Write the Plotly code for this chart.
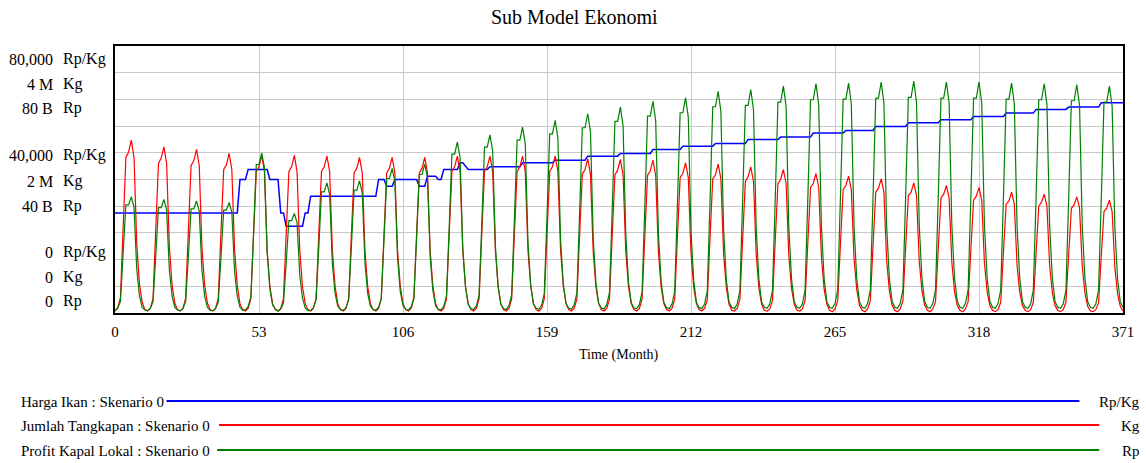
import plotly.graph_objects as go

# ---------------------------------------------------------------
# Time axis: monthly output, month 0 .. 371
# ---------------------------------------------------------------
BULAN = list(range(372))
X_TICKS = [0, 53, 106, 159, 212, 265, 318, 371]

# ---------------------------------------------------------------
# Harga Ikan (Rp/Kg) - stepwise path, given as (month, price) vertices
# ---------------------------------------------------------------
HARGA_BULAN = [0, 45, 46, 48, 49, 56, 57, 60, 61, 62, 63, 69, 70, 71, 72,
               96, 97, 99, 100, 102, 103, 111, 112, 114, 115, 118, 119, 120, 121,
               126, 127, 128, 130, 137, 138, 149, 150, 161, 162, 173, 174,
               185, 186, 197, 198, 208, 209, 220, 221, 232, 233, 244, 245,
               256, 257, 268, 269, 279, 280, 291, 292, 303, 304, 315, 316,
               327, 328, 338, 339, 350, 351, 362, 363, 371]
HARGA_RP_KG = [30000, 30000, 40000, 40000, 43000, 43000, 40000, 40000, 30000, 30000,
               26000, 26000, 30000, 30000, 35000,
               35000, 40000, 40000, 38000, 38000, 40000, 40000, 38000, 38000, 41000,
               41000, 40000, 40000, 43000,
               43000, 45000, 45000, 43000, 43000, 43800, 43800, 45000, 45000, 45800,
               45800, 47000,
               47000, 47800, 47800, 49000, 49000, 50000, 50000, 50800, 50800, 52000,
               52000, 52700,
               52700, 53900, 53900, 54700, 54700, 55900, 55900, 57000, 57000, 57900,
               57900, 58900,
               58900, 59900, 59900, 61000, 61000, 61700, 61700, 63000, 63000]

# ---------------------------------------------------------------
# Jumlah Tangkapan (juta Kg), one row per year of 12 months
# ---------------------------------------------------------------
JUMLAH_TANGKAPAN_JUTA_KG = [
    0.03, 0.08, 0.23, 1.30, 2.33, 2.41, 2.59, 2.33, 1.04, 0.44, 0.16, 0.05,
    0.03, 0.07, 0.22, 1.25, 2.24, 2.32, 2.49, 2.24, 1.00, 0.42, 0.15, 0.05,
    0.03, 0.07, 0.22, 1.23, 2.21, 2.28, 2.45, 2.21, 0.98, 0.42, 0.15, 0.05,
    0.03, 0.07, 0.22, 1.20, 2.15, 2.22, 2.39, 2.15, 0.96, 0.41, 0.14, 0.05,
    0.03, 0.07, 0.21, 1.18, 2.12, 2.19, 2.36, 2.12, 0.94, 0.40, 0.14, 0.05,
    0.03, 0.07, 0.21, 1.18, 2.12, 2.19, 2.36, 2.12, 0.94, 0.40, 0.14, 0.05,
    0.03, 0.07, 0.21, 1.18, 2.12, 2.19, 2.35, 2.12, 0.94, 0.40, 0.14, 0.05,
    0.03, 0.07, 0.21, 1.17, 2.10, 2.17, 2.33, 2.10, 0.93, 0.40, 0.14, 0.05,
    0.03, 0.07, 0.21, 1.17, 2.10, 2.17, 2.33, 2.10, 0.93, 0.40, 0.14, 0.05,
    0.03, 0.07, 0.21, 1.17, 2.10, 2.17, 2.33, 2.10, 0.93, 0.40, 0.14, 0.05,
    0.03, 0.07, 0.21, 1.18, 2.12, 2.19, 2.35, 2.12, 0.94, 0.40, 0.14, 0.05,
    0.03, 0.07, 0.21, 1.18, 2.12, 2.19, 2.35, 2.12, 0.94, 0.40, 0.14, 0.05,
    0.03, 0.07, 0.21, 1.18, 2.12, 2.19, 2.35, 2.12, 0.94, 0.40, 0.14, 0.05,
    0.03, 0.07, 0.21, 1.18, 2.12, 2.19, 2.35, 2.12, 0.94, 0.40, 0.14, 0.05,
    0.03, 0.07, 0.21, 1.16, 2.08, 2.15, 2.31, 2.08, 0.92, 0.39, 0.14, 0.05,
    0.03, 0.07, 0.21, 1.15, 2.07, 2.14, 2.30, 2.07, 0.92, 0.39, 0.14, 0.05,
    0.03, 0.07, 0.21, 1.15, 2.06, 2.13, 2.29, 2.06, 0.92, 0.39, 0.14, 0.05,
    0.03, 0.07, 0.20, 1.13, 2.03, 2.09, 2.25, 2.03, 0.90, 0.38, 0.14, 0.05,
    0.03, 0.07, 0.20, 1.12, 2.01, 2.07, 2.23, 2.01, 0.89, 0.38, 0.13, 0.04,
    0.03, 0.07, 0.20, 1.10, 1.97, 2.04, 2.19, 1.97, 0.88, 0.37, 0.13, 0.04,
    0.03, 0.06, 0.19, 1.08, 1.94, 2.00, 2.15, 1.94, 0.86, 0.37, 0.13, 0.04,
    0.03, 0.06, 0.19, 1.05, 1.88, 1.94, 2.09, 1.88, 0.84, 0.36, 0.13, 0.04,
    0.02, 0.06, 0.18, 1.03, 1.85, 1.91, 2.05, 1.85, 0.82, 0.35, 0.12, 0.04,
    0.02, 0.06, 0.18, 1.01, 1.81, 1.87, 2.01, 1.81, 0.80, 0.34, 0.12, 0.04,
    0.02, 0.06, 0.18, 0.98, 1.76, 1.81, 1.95, 1.76, 0.78, 0.33, 0.12, 0.04,
    0.02, 0.06, 0.17, 0.96, 1.72, 1.78, 1.91, 1.72, 0.76, 0.32, 0.11, 0.04,
    0.02, 0.06, 0.17, 0.94, 1.69, 1.75, 1.88, 1.69, 0.75, 0.32, 0.11, 0.04,
    0.02, 0.05, 0.16, 0.91, 1.63, 1.68, 1.81, 1.63, 0.72, 0.31, 0.11, 0.04,
    0.02, 0.05, 0.16, 0.89, 1.60, 1.66, 1.78, 1.60, 0.71, 0.30, 0.11, 0.04,
    0.02, 0.05, 0.16, 0.87, 1.57, 1.62, 1.74, 1.57, 0.70, 0.30, 0.10, 0.03,
    0.02, 0.05, 0.15, 0.85, 1.52, 1.57, 1.69, 1.52, 0.68, 0.29, 0.10, 0.03,
]

# ---------------------------------------------------------------
# Profit Kapal Lokal (miliar Rp), one row per year of 12 months
# ---------------------------------------------------------------
PROFIT_MILIAR_RP = [
    0.7, 1.4, 3.5, 17.4, 32.4, 32.4, 34.8, 31.7, 13.2, 5.2, 1.7, 0.9,
    0.7, 1.4, 3.4, 17.0, 31.6, 31.6, 34.0, 30.9, 12.9, 5.1, 1.7, 0.9,
    0.7, 1.3, 3.4, 16.8, 31.2, 31.2, 33.6, 30.6, 12.8, 5.0, 1.7, 0.8,
    0.7, 1.3, 3.3, 16.6, 30.8, 30.8, 33.1, 30.1, 12.6, 5.0, 1.7, 0.8,
    1.0, 1.9, 4.8, 24.0, 44.5, 44.5, 47.9, 43.6, 18.2, 7.2, 2.4, 1.2,
    0.6, 1.2, 3.0, 14.9, 27.7, 27.7, 29.8, 27.1, 11.3, 4.5, 1.5, 0.7,
    0.8, 1.6, 3.9, 19.5, 36.3, 36.3, 39.0, 35.5, 14.8, 5.9, 2.0, 1.0,
    0.8, 1.6, 4.0, 19.8, 36.8, 36.8, 39.6, 36.0, 15.0, 5.9, 2.0, 1.0,
    0.9, 1.7, 4.3, 21.7, 40.3, 40.3, 43.3, 39.4, 16.5, 6.5, 2.2, 1.1,
    0.9, 1.8, 4.5, 22.3, 41.5, 41.5, 44.6, 40.6, 16.9, 6.7, 2.2, 1.1,
    1.0, 2.0, 5.1, 25.6, 47.6, 47.6, 51.2, 46.6, 19.5, 7.7, 2.6, 1.3,
    1.1, 2.1, 5.3, 26.7, 49.7, 49.7, 53.4, 48.6, 20.3, 8.0, 2.7, 1.3,
    1.1, 2.2, 5.6, 27.9, 51.8, 51.8, 55.7, 50.7, 21.2, 8.4, 2.8, 1.4,
    1.2, 2.3, 5.8, 28.9, 53.7, 53.7, 57.7, 52.5, 21.9, 8.7, 2.9, 1.4,
    1.2, 2.4, 6.0, 29.9, 55.5, 55.5, 59.7, 54.3, 22.7, 9.0, 3.0, 1.5,
    1.2, 2.5, 6.2, 30.9, 57.4, 57.4, 61.7, 56.1, 23.4, 9.3, 3.1, 1.5,
    1.3, 2.5, 6.3, 31.7, 59.0, 59.0, 63.4, 57.7, 24.1, 9.5, 3.2, 1.6,
    1.3, 2.6, 6.5, 32.3, 60.0, 60.0, 64.5, 58.7, 24.5, 9.7, 3.2, 1.6,
    1.3, 2.7, 6.6, 33.2, 61.8, 61.8, 66.4, 60.4, 25.2, 10.0, 3.3, 1.7,
    1.3, 2.7, 6.7, 33.5, 62.2, 62.2, 66.9, 60.9, 25.4, 10.0, 3.3, 1.7,
    1.4, 2.7, 6.8, 34.0, 63.2, 63.2, 68.0, 61.9, 25.8, 10.2, 3.4, 1.7,
    1.4, 2.7, 6.9, 34.4, 63.9, 63.9, 68.7, 62.5, 26.1, 10.3, 3.4, 1.7,
    1.4, 2.8, 6.9, 34.5, 64.1, 64.1, 68.9, 62.7, 26.2, 10.3, 3.4, 1.7,
    1.4, 2.8, 6.9, 34.6, 64.4, 64.4, 69.2, 63.0, 26.3, 10.4, 3.5, 1.7,
    1.4, 2.8, 7.0, 34.8, 64.6, 64.6, 69.5, 63.2, 26.4, 10.4, 3.5, 1.7,
    1.4, 2.8, 6.9, 34.6, 64.4, 64.4, 69.2, 63.0, 26.3, 10.4, 3.5, 1.7,
    1.4, 2.8, 6.9, 34.6, 64.4, 64.4, 69.2, 63.0, 26.3, 10.4, 3.5, 1.7,
    1.4, 2.8, 6.9, 34.5, 64.1, 64.1, 68.9, 62.7, 26.2, 10.3, 3.4, 1.7,
    1.4, 2.7, 6.9, 34.4, 63.9, 63.9, 68.7, 62.5, 26.1, 10.3, 3.4, 1.7,
    1.4, 2.7, 6.8, 34.2, 63.6, 63.6, 68.4, 62.2, 26.0, 10.3, 3.4, 1.7,
    1.4, 2.7, 6.8, 34.0, 63.2, 63.2, 68.0, 61.9, 25.8, 10.2, 3.4, 1.7,
]

# Scale of each variable (full range of its own y axis) and its scale labels
HARGA_MAX = 80000
TANGKAPAN_MAX = 4e6
PROFIT_MAX = 80e9
HARGA_LABELS = ["80,000", "40,000", "0"]
TANGKAPAN_LABELS = ["4 M", "2 M", "0"]
PROFIT_LABELS = ["80 B", "40 B", "0"]

jumlah_kg = [v * 1e6 for v in JUMLAH_TANGKAPAN_JUTA_KG]
profit_rp = [v * 1e9 for v in PROFIT_MILIAR_RP]

BLUE = "#0000ff"
RED = "#ff0000"
GREEN = "#008000"
FONT = "Liberation Serif"

W, H = 1146, 463
L, R, T, B = 115, 14, 46, 150
PW, PH = W - L - R, H - T - B


def fx(px):
    return (px - L) / PW


def fy(py):
    return (H - B - py) / PH


fig = go.Figure()
fig.add_trace(go.Scatter(x=BULAN, y=jumlah_kg, mode="lines", yaxis="y2",
                         line=dict(color=RED, width=1.2), name="Jumlah Tangkapan"))
fig.add_trace(go.Scatter(x=BULAN, y=profit_rp, mode="lines", yaxis="y3",
                         line=dict(color=GREEN, width=1.2), name="Profit Kapal Lokal"))
fig.add_trace(go.Scatter(x=HARGA_BULAN, y=HARGA_RP_KG, mode="lines", yaxis="y",
                         line=dict(color=BLUE, width=1.5), name="Harga Ikan"))

annotations = []
shapes = []

# Stacked scale labels on the left: value right-aligned, unit left-aligned
label_rows = [
    (HARGA_LABELS[0], "Rp/Kg", 59), (TANGKAPAN_LABELS[0], "Kg", 84), (PROFIT_LABELS[0], "Rp", 108),
    (HARGA_LABELS[1], "Rp/Kg", 155), (TANGKAPAN_LABELS[1], "Kg", 181), (PROFIT_LABELS[1], "Rp", 206),
    (HARGA_LABELS[2], "Rp/Kg", 252), (TANGKAPAN_LABELS[2], "Kg", 277), (PROFIT_LABELS[2], "Rp", 301),
]
for val, unit, py in label_rows:
    annotations.append(dict(text=val, x=fx(54), y=fy(py), xref="paper", yref="paper",
                            xanchor="right", yanchor="middle", showarrow=False,
                            font=dict(family=FONT, size=16, color="black")))
    annotations.append(dict(text=unit, x=fx(61), y=fy(py), xref="paper", yref="paper",
                            xanchor="left", yanchor="middle", showarrow=False,
                            font=dict(family=FONT, size=16, color="black")))

# Title and x-axis caption
annotations.append(dict(text="Sub Model Ekonomi", x=fx(579), y=fy(17), xref="paper", yref="paper",
                        xanchor="center", yanchor="middle", showarrow=False,
                        font=dict(family=FONT, size=20, color="black")))
annotations.append(dict(text="Time (Month)", x=fx(623), y=fy(355), xref="paper", yref="paper",
                        xanchor="center", yanchor="middle", showarrow=False,
                        font=dict(family=FONT, size=14, color="black")))

# Legend rows beneath the chart
legend_rows = [
    ("Harga Ikan : Skenario 0", "Rp/Kg", BLUE, 402, 167, 1088),
    ("Jumlah Tangkapan : Skenario 0", "Kg", RED, 426, 220, 1108),
    ("Profit Kapal Lokal : Skenario 0", "Rp", GREEN, 451, 218, 1108),
]
for name, unit, color, py, x0, x1 in legend_rows:
    annotations.append(dict(text=name, x=fx(18), y=fy(py), xref="paper", yref="paper",
                            xanchor="left", yanchor="middle", showarrow=False,
                            font=dict(family=FONT, size=15, color="black")))
    annotations.append(dict(text=unit, x=fx(1151), y=fy(py), xref="paper", yref="paper",
                            xanchor="right", yanchor="middle", showarrow=False,
                            font=dict(family=FONT, size=15, color="black")))
    shapes.append(dict(type="line", xref="paper", yref="paper",
                       x0=fx(x0), x1=fx(x1), y0=fy(py - 1), y1=fy(py - 1),
                       line=dict(color=color, width=2)))

GRID = "#c8c8c8"
fig.update_layout(
    width=W, height=H,
    margin=dict(l=L, r=R, t=T, b=B),
    paper_bgcolor="white", plot_bgcolor="white",
    showlegend=False,
    font=dict(family=FONT, size=15, color="black"),
    xaxis=dict(range=[0, 371], tickvals=X_TICKS, ticktext=[str(t) for t in X_TICKS],
               showgrid=True, gridcolor=GRID, gridwidth=1, zeroline=False,
               showline=True, linecolor="black", linewidth=2, mirror=True,
               ticks="", ticklabelstandoff=4,
               tickfont=dict(family=FONT, size=15, color="black")),
    yaxis=dict(range=[0, HARGA_MAX], dtick=HARGA_MAX / 10, showgrid=True, gridcolor=GRID,
               gridwidth=1, zeroline=False, showticklabels=False, ticks="",
               showline=True, linecolor="black", linewidth=2, mirror=True),
    yaxis2=dict(range=[0, TANGKAPAN_MAX], overlaying="y", showgrid=False, zeroline=False,
                showticklabels=False, ticks="", showline=False),
    yaxis3=dict(range=[0, PROFIT_MAX], overlaying="y", showgrid=False, zeroline=False,
                showticklabels=False, ticks="", showline=False),
    annotations=annotations,
    shapes=shapes,
)

fig.write_html("out.html")
